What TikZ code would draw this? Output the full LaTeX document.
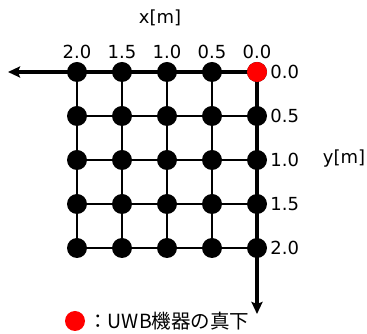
\documentclass[tikz,border=0pt]{standalone}
\usepackage{fontspec}
\setmainfont{DejaVu Sans}
\newfontfamily\jpfont{Noto Sans CJK JP}
\usetikzlibrary{arrows.meta,positioning,backgrounds}

\begin{document}
\begin{tikzpicture}[
  x=1pt,y=1pt,
  font=\fontsize{18}{20}\selectfont,
  >={Stealth[length=12pt,width=11pt,inset=2pt]},
  pt/.style={circle,fill=black,minimum size=20pt,inner sep=0pt},
  origin/.style={pt,fill=red},
  lbl/.style={inner sep=2pt},
  gridline/.style={line width=1.4pt},
  axis/.style={line width=3.2pt},
]
\useasboundingbox (0,0) rectangle (367,334);

% ============ measuring points (c = x step, r = y step) ============
\foreach \c in {0,...,4}{
  \foreach \r in {0,...,4}{
    \node[pt] (p\c\r) at (257-45*\c,262-44*\r) {};
  }
}
\node[origin] (p00) at (257,262) {};

% ============ grid + axes ============
\coordinate (xend) at (8,262);
\coordinate (yend) at (257,20);
\begin{scope}[on background layer]
  \foreach \c in {1,...,4}{
    \draw[gridline] (p\c0) -- (p\c4);
  }
  \foreach \r in {1,...,4}{
    \draw[gridline] (p0\r) -- (p4\r);
  }
  \draw[axis,->] (p00.center) -- (xend);
  \draw[axis,->] (p00.center) -- (yend);
\end{scope}

% ============ axis labels ============
\node[lbl,above=1pt of p40] (x4) {2.0};
\node[lbl,above=1pt of p30] (x3) {1.5};
\node[lbl,above=1pt of p20] (x2) {1.0};
\node[lbl,above=1pt of p10] (x1) {0.5};
\node[lbl,above=1pt of p00] (x0) {0.0};
\node[lbl] (xname) at (160,316) {x[m]};

\node[lbl,right=1pt of p00] (y0) {0.0};
\node[lbl,right=1pt of p01] (y1) {0.5};
\node[lbl,right=1pt of p02] (y2) {1.0};
\node[lbl,right=1pt of p03] (y3) {1.5};
\node[lbl,right=1pt of p04] (y4) {2.0};
\node[lbl] (yname) at (344,175) {y[m]};

% ============ legend ============
\node[origin,minimum size=20pt] (key) at (75,13) {};
\node[lbl,right=1pt of key,font=\jpfont\fontsize{19.5}{21}\selectfont] (keytext) {：UWB機器の真下};

\end{tikzpicture}
\end{document}
